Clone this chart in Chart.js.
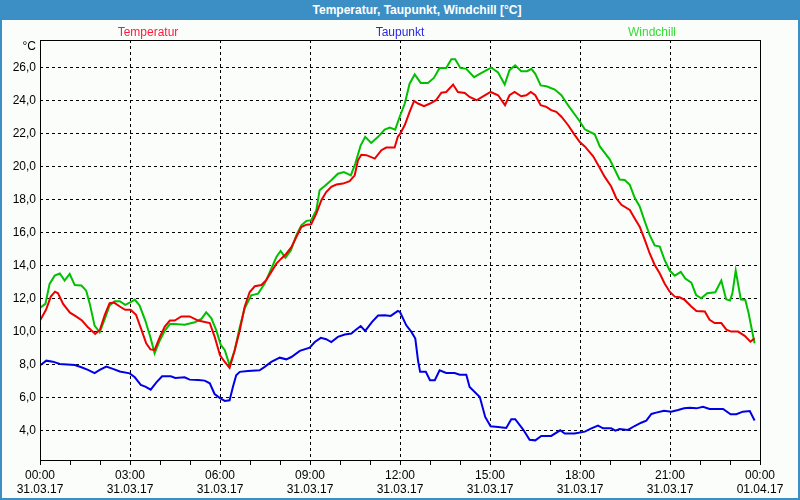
<!DOCTYPE html>
<html>
<head>
<meta charset="utf-8">
<script src="https://cdn.jsdelivr.net/npm/chart.js@4.4.0/dist/chart.umd.min.js"></script>
<style>
body { margin: 0; }
#frame { position: relative; width: 800px; height: 500px; background: #3c8fc4; }
#title { position: absolute; left: 0; top: 0; width: 800px; height: 20px; box-sizing: border-box; padding-left: 34px;
  color: #fff; font: bold 12px "Liberation Sans", sans-serif; text-align: center; line-height: 20px; }
#box { position: absolute; left: 2px; top: 20px; width: 796px; height: 478px; background: #fbfdfb; }
</style>
</head>
<body>
<div id="frame">
  <div id="title">Temperatur, Taupunkt, Windchill [°C]</div>
  <div id="box"><canvas id="chart" width="796" height="478"></canvas></div>
</div>
<script>
// hours since 31.03.17 00:00
var tempHours = [0, 0.2, 0.36, 0.5, 0.6, 0.77, 1.0, 1.2, 1.4, 1.6, 1.84, 2.0, 2.16, 2.32, 2.47, 2.66, 2.84, 3.02, 3.2, 3.38, 3.54, 3.68, 3.82, 4.0, 4.16, 4.33, 4.49, 4.71, 4.99, 5.27, 5.66, 5.82, 6.0, 6.16, 6.32, 6.49, 6.66, 6.82, 6.99, 7.16, 7.38, 7.54, 7.71, 7.88, 8.04, 8.21, 8.38, 8.54, 8.71, 8.88, 9.04, 9.21, 9.38, 9.54, 9.71, 9.88, 10.1, 10.32, 10.49, 10.6, 10.71, 10.88, 11.16, 11.38, 11.54, 11.82, 11.93, 12.0, 12.16, 12.32, 12.47, 12.6, 12.8, 13.0, 13.2, 13.38, 13.54, 13.77, 13.93, 14.16, 14.32, 14.55, 14.77, 15.02, 15.27, 15.5, 15.65, 15.82, 16.04, 16.21, 16.36, 16.51, 16.69, 16.88, 17.04, 17.21, 17.38, 17.6, 17.82, 18.0, 18.16, 18.44, 18.66, 18.82, 19.04, 19.21, 19.38, 19.66, 19.82, 19.99, 20.16, 20.32, 20.49, 20.66, 20.82, 20.99, 21.16, 21.32, 21.49, 21.71, 21.88, 22.16, 22.32, 22.49, 22.71, 22.88, 23.04, 23.27, 23.49, 23.68, 23.82];
var tempValues = [10.65, 11.3, 12.1, 12.4, 12.3, 11.66, 11.13, 10.9, 10.65, 10.24, 9.84, 10.1, 11.0, 11.7, 11.74, 11.5, 11.3, 11.3, 11.0, 10.1, 9.27, 8.9, 8.87, 9.68, 10.28, 10.65, 10.65, 10.9, 10.9, 10.65, 10.5, 9.68, 8.55, 8.14, 7.78, 8.85, 10.06, 11.47, 12.38, 12.73, 12.8, 13.1, 13.6, 14.1, 14.4, 14.7, 15.1, 15.7, 16.32, 16.46, 16.48, 17.13, 17.94, 18.44, 18.75, 18.89, 18.95, 19.1, 19.45, 20.36, 20.7, 20.67, 20.46, 20.97, 21.13, 21.13, 21.8, 21.95, 22.5, 23.3, 23.96, 23.8, 23.64, 23.8, 24.0, 24.46, 24.5, 24.95, 24.5, 24.44, 24.2, 24.0, 24.24, 24.5, 24.3, 23.7, 24.3, 24.5, 24.24, 24.3, 24.5, 24.3, 23.7, 23.6, 23.4, 23.3, 23.0, 22.5, 21.9, 21.45, 21.2, 20.6, 19.9, 19.37, 18.77, 18.06, 17.66, 17.35, 16.85, 16.34, 15.54, 14.73, 14.02, 13.5, 12.9, 12.4, 12.1, 12.06, 11.9, 11.5, 11.23, 11.2, 10.7, 10.5, 10.5, 10.1, 9.98, 9.98, 9.72, 9.37, 9.58];

var dewHours = [0.02, 0.21, 0.43, 0.66, 1.16, 1.38, 1.6, 1.82, 1.99, 2.21, 2.43, 2.66, 2.99, 3.16, 3.36, 3.51, 3.69, 3.88, 4.07, 4.36, 4.51, 4.82, 4.99, 5.27, 5.49, 5.66, 5.82, 6.0, 6.16, 6.32, 6.43, 6.54, 6.66, 6.93, 7.32, 7.49, 7.71, 7.99, 8.21, 8.38, 8.66, 8.99, 9.16, 9.36, 9.54, 9.71, 9.93, 10.16, 10.38, 10.51, 10.69, 10.84, 11.07, 11.27, 11.49, 11.69, 11.93, 12.0, 12.21, 12.38, 12.51, 12.6, 12.67, 12.86, 13.0, 13.16, 13.32, 13.54, 13.82, 13.99, 14.21, 14.32, 14.66, 14.84, 15.02, 15.27, 15.54, 15.71, 15.84, 16.1, 16.32, 16.51, 16.71, 17.04, 17.34, 17.49, 17.82, 18.16, 18.38, 18.6, 18.77, 19.04, 19.18, 19.32, 19.6, 19.82, 20.04, 20.21, 20.38, 20.54, 20.8, 21.04, 21.27, 21.47, 21.66, 21.88, 22.1, 22.32, 22.77, 23.02, 23.21, 23.43, 23.66, 23.82];
var dewValues = [7.96, 8.22, 8.16, 8.02, 7.96, 7.82, 7.66, 7.47, 7.66, 7.86, 7.72, 7.56, 7.45, 7.21, 6.75, 6.65, 6.46, 6.9, 7.27, 7.27, 7.17, 7.21, 7.07, 7.05, 7.01, 6.85, 6.2, 5.95, 5.78, 5.82, 6.63, 7.33, 7.54, 7.6, 7.64, 7.84, 8.14, 8.4, 8.3, 8.44, 8.81, 9.01, 9.35, 9.6, 9.52, 9.35, 9.66, 9.8, 9.86, 10.06, 10.32, 10.02, 10.57, 10.95, 10.97, 10.93, 11.23, 11.17, 10.36, 9.96, 9.56, 8.24, 7.54, 7.54, 7.03, 7.03, 7.64, 7.47, 7.47, 7.37, 7.37, 6.63, 6.02, 4.81, 4.24, 4.2, 4.14, 4.67, 4.67, 4.06, 3.43, 3.39, 3.66, 3.66, 4.0, 3.8, 3.8, 3.92, 4.12, 4.28, 4.12, 4.12, 3.98, 4.08, 4.02, 4.26, 4.46, 4.59, 4.99, 5.07, 5.19, 5.13, 5.23, 5.33, 5.37, 5.33, 5.43, 5.29, 5.29, 4.97, 4.97, 5.13, 5.17, 4.59];

var chillHours = [0.02, 0.18, 0.32, 0.49, 0.66, 0.82, 0.99, 1.16, 1.38, 1.54, 1.66, 1.82, 1.99, 2.16, 2.32, 2.49, 2.66, 2.84, 3.02, 3.16, 3.32, 3.51, 3.68, 3.82, 3.99, 4.16, 4.33, 4.49, 4.82, 5.16, 5.38, 5.54, 5.71, 5.88, 6.02, 6.16, 6.32, 6.49, 6.66, 6.82, 7.04, 7.27, 7.49, 7.71, 7.88, 8.02, 8.18, 8.36, 8.54, 8.71, 8.88, 9.04, 9.21, 9.32, 9.49, 9.71, 9.93, 10.13, 10.36, 10.51, 10.69, 10.84, 11.04, 11.27, 11.49, 11.66, 11.84, 11.99, 12.16, 12.32, 12.49, 12.69, 12.93, 13.13, 13.32, 13.54, 13.71, 13.84, 14.01, 14.21, 14.47, 14.66, 14.84, 15.04, 15.27, 15.49, 15.65, 15.84, 16.04, 16.24, 16.38, 16.51, 16.69, 16.88, 17.16, 17.38, 17.6, 17.82, 18.0, 18.16, 18.49, 18.66, 18.99, 19.32, 19.49, 19.66, 19.82, 19.99, 20.16, 20.32, 20.49, 20.66, 20.82, 20.99, 21.16, 21.36, 21.51, 21.71, 21.87, 22.04, 22.24, 22.51, 22.71, 22.87, 23.0, 23.08, 23.19, 23.36, 23.51, 23.62, 23.73, 23.82];
var chillValues = [11.45, 11.66, 12.87, 13.37, 13.5, 13.07, 13.47, 12.8, 12.77, 12.46, 11.66, 10.34, 9.94, 10.75, 11.56, 11.82, 11.82, 11.6, 11.76, 11.92, 11.56, 10.65, 9.64, 8.67, 9.43, 10.04, 10.44, 10.44, 10.4, 10.55, 10.75, 11.15, 10.8, 10.04, 9.2, 8.85, 7.94, 8.85, 10.26, 11.37, 12.18, 12.28, 12.89, 13.8, 14.5, 14.87, 14.46, 14.9, 15.8, 16.42, 16.69, 16.73, 17.33, 18.55, 18.8, 19.15, 19.55, 19.65, 19.45, 20.16, 21.27, 21.78, 21.41, 21.78, 22.22, 22.34, 22.22, 23.0, 23.8, 25.0, 25.56, 25.05, 25.05, 25.35, 25.96, 25.96, 26.48, 26.48, 25.96, 25.9, 25.4, 25.6, 25.78, 25.98, 25.68, 24.95, 25.82, 26.12, 25.76, 25.76, 25.9, 25.6, 24.9, 24.85, 24.65, 24.3, 23.7, 23.15, 22.7, 22.24, 21.94, 21.2, 20.42, 19.2, 19.17, 18.87, 18.1, 17.56, 16.65, 15.84, 15.2, 15.13, 14.32, 13.68, 13.37, 13.6, 13.2, 12.95, 12.2, 12.0, 12.3, 12.36, 13.07, 11.94, 11.86, 12.3, 13.68, 11.94, 11.9, 11.1, 10.08, 9.27];

var yTicks = [4, 6, 8, 10, 12, 14, 16, 18, 20, 22, 24, 26];
var tickHours = [0, 3, 6, 9, 12, 15, 18, 21, 24];
var tickTimes = ["00:00", "03:00", "06:00", "09:00", "12:00", "15:00", "18:00", "21:00", "00:00"];
var tickDates = ["31.03.17", "31.03.17", "31.03.17", "31.03.17", "31.03.17", "31.03.17", "31.03.17", "31.03.17", "01.04.17"];

function punkte(hours, values) {
  return hours.map(function (h, i) { return { x: h, y: values[i] }; });
}

var stundenTicks = [];
for (var h = 0; h <= 24; h++) stundenTicks.push({ value: h });

Chart.defaults.font.family = "'Liberation Sans', sans-serif";
Chart.defaults.font.size = 12;
Chart.defaults.color = "#000";

var rahmen = {
  id: "rahmen",
  afterDraw: function (chart) {
    var ctx = chart.ctx, a = chart.chartArea;
    ctx.save();
    ctx.strokeStyle = "#000";
    ctx.lineWidth = 1;
    ctx.strokeRect(Math.round(a.left) + 0.5, Math.round(a.top) + 0.5, Math.round(a.right - a.left), Math.round(a.bottom - a.top));
    // unit
    ctx.fillStyle = "#000";
    ctx.font = "12px 'Liberation Sans', sans-serif";
    ctx.textAlign = "right";
    ctx.textBaseline = "middle";
    ctx.fillText("°C", a.left - 4, a.top + 7);
    // legend texts
    var mitte = (a.left + a.right) / 2;
    var pos = [mitte - 252, mitte, mitte + 252];
    var farben = ["#ff1a3c", "#2a2ae6", "#33dd33"];
    ctx.textAlign = "center";
    chart.data.datasets.forEach(function (ds, i) {
      ctx.fillStyle = farben[i];
      ctx.fillText(ds.label, pos[i], a.top - 7);
    });
    ctx.restore();
  }
};

new Chart(document.getElementById("chart"), {
  type: "line",
  data: {
    datasets: [
      { label: "Temperatur", data: punkte(tempHours, tempValues), borderColor: "#ee0000" },
      { label: "Taupunkt", data: punkte(dewHours, dewValues), borderColor: "#0000e6" },
      { label: "Windchill", data: punkte(chillHours, chillValues), borderColor: "#00c000" }
    ]
  },
  options: {
    responsive: false,
    animation: false,
    layout: { padding: { left: 0, right: 38, top: 20, bottom: 0 } },
    elements: {
      line: { borderWidth: 2, tension: 0 },
      point: { radius: 0 }
    },
    plugins: { legend: { display: false }, tooltip: { enabled: false } },
    scales: {
      x: {
        type: "linear",
        min: 0,
        max: 24,
        afterBuildTicks: function (s) { s.ticks = stundenTicks.slice(); },
        afterFit: function (s) { s.height = 38; },
        ticks: {
          autoSkip: false,
          maxRotation: 0,
          padding: 3,
          callback: function (v) {
            var i = tickHours.indexOf(v);
            return i < 0 ? "" : [tickTimes[i], tickDates[i]];
          }
        },
        grid: {
          color: function (c) { return c.tick && c.tick.value % 3 === 0 ? "#000" : "rgba(0,0,0,0)"; },
          tickColor: "#000",
          tickLength: 5
        },
        border: { display: false, dash: [3, 3] }
      },
      y: {
        min: 2.2,
        max: 27.65,
        afterBuildTicks: function (s) { s.ticks = yTicks.map(function (v) { return { value: v }; }); },
        afterFit: function (s) { s.width = 38; },
        ticks: {
          padding: 4,
          callback: function (v) { return v.toFixed(1).replace(".", ","); }
        },
        grid: { color: "#000", drawTicks: false },
        border: { display: false, dash: [3, 3] }
      }
    }
  },
  plugins: [rahmen]
});
</script>
</body>
</html>
